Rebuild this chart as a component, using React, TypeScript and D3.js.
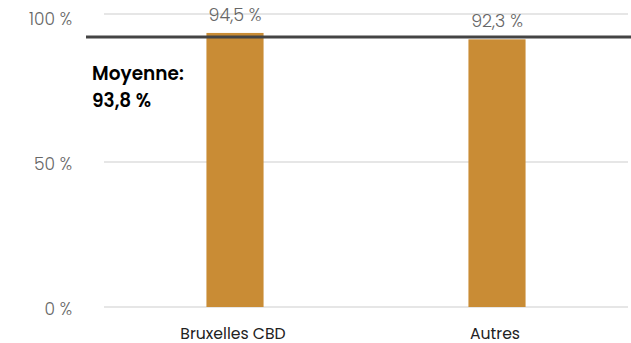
import React from "react";
import * as d3 from "d3";

const categories = ["Bruxelles CBD", "Autres"];
const values = [94.5, 92.3];
const valueLabels = ["94,5 %", "92,3 %"];
const yTicks = [0, 50, 100];
const yTickLabels = ["0 %", "50 %", "100 %"];
const meanValue = 93.8;
const meanLabel = ["Moyenne:", "93,8 %"];

const W = 631;
const H = 343;
const margin = { top: 14, left: 104, right: 3 };
const FONT = "Poppins, 'Open Sans', 'Noto Sans', sans-serif";

export default function App() {
  const x = d3
    .scaleBand<string>()
    .domain(categories)
    .range([margin.left, W - margin.right])
    .paddingInner(0)
    .paddingOuter(0);
  const y = d3.scaleLinear().domain([0, 100]).range([307, 17]);
  const barW = x.step() * 0.218;

  return (
    <svg
      width={W}
      height={H}
      style={{ position: "absolute", left: 0, top: 0, background: "#fff" }}
      fontFamily={FONT}
    >
      {/* plot top border */}
      <line x1={margin.left} x2={W - margin.right} y1={margin.top} y2={margin.top} stroke="#e6e6e6" strokeWidth={2} />
      {yTicks.map((t, i) => (
        <g key={t}>
          {t < 100 && (
            <line x1={margin.left} x2={W - margin.right} y1={y(t)} y2={y(t)} stroke="#e6e6e6" strokeWidth={2} />
          )}
          <text x={72} y={y(t) + 8} textAnchor="end" fontSize={17} fontWeight={300} fill="#666">
            {yTickLabels[i]}
          </text>
        </g>
      ))}
      {categories.map((c, i) => {
        const cx = (x(c) as number) + x.bandwidth() / 2;
        return (
          <g key={c}>
            <rect x={cx - barW / 2} y={y(values[i])} width={barW} height={y(0) - y(values[i])} fill="#C98C35" />
            <text x={cx} y={y(values[i]) - 12} textAnchor="middle" fontSize={17.5} fontWeight={300} fill="#666">
              {valueLabels[i]}
            </text>
            <text x={cx - 2} y={339} textAnchor="middle" fontSize={15.7} fill="#222">
              {c}
            </text>
          </g>
        );
      })}
      <line x1={86} x2={W} y1={y(meanValue) + 2} y2={y(meanValue) + 2} stroke="#444" strokeWidth={3} />
      <text x={92} y={80} fontSize={18.5} fontWeight={600} fill="#000">
        {meanLabel[0]}
      </text>
      <text x={92} y={107} fontSize={18.5} fontWeight={600} fill="#000">
        {meanLabel[1]}
      </text>
    </svg>
  );
}
